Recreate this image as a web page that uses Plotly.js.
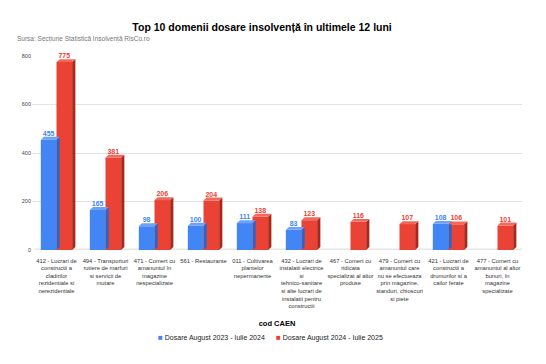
<!DOCTYPE html>
<html><head><meta charset="utf-8">
<script src="https://cdn.plot.ly/plotly-3.0.1.min.js"></script>
<style>html,body{margin:0;padding:0;background:#fff}#chart{width:546px;height:364px}</style>
</head><body><div id="chart"></div>
<script>
const categories = [
  "412 - Lucrari de<br>constructii a<br>cladirilor<br>rezidentiale si<br>nerezidentiale",
  "494 - Transporturi<br>rutiere de marfuri<br>si servicii de<br>mutare",
  "471 - Comert cu<br>amanuntul în<br>magazine<br>nespecializate",
  "561 - Restaurante",
  "011 - Cultivarea<br>plantelor<br>nepermanente",
  "432 - Lucrari de<br>instalatii electrice<br>si<br>tehnico-sanitare<br>si alte lucrari de<br>instalatii pentru<br>constructii",
  "467 - Comert cu<br>ridicata<br>specializat al altor<br>produse",
  "479 - Comert cu<br>amanuntul care<br>nu se efectueaza<br>prin magazine,<br>standuri, chioscuri<br>si piete",
  "421 - Lucrari de<br>constructii a<br>drumurilor si a<br>cailor ferate",
  "477 - Comert cu<br>amanuntul al altor<br>bunuri, în<br>magazine<br>specializate"
];
const series1Name = "Dosare August 2023 - Iulie 2024";
const series2Name = "Dosare August 2024 - Iulie 2025";
const series1 = [455, 165, 98, 100, 111, 83, null, null, 108, null];
const series2 = [775, 381, 206, 204, 138, 123, 116, 107, 106, 101];
const yTicks = [0, 200, 400, 600, 800];

const BLUE = "#4285F4", RED = "#EA4335";
const BLUE_SIDE = "#2D64C8", RED_SIDE = "#A8281C";
const BLUE_TOP = "#6EA1F7", RED_TOP = "#F0695C";

const bargap = 0.36;
const bw = (1 - bargap) / 2;
const dx = 0.065;
const dy = 12;

const shapes = [];
shapes.push({type:"path", xref:"x", yref:"y",
  path:`M -0.5 -6 L 9.5 -6 L ${9.5+dx} ${dy-6} L ${-0.5+dx} ${dy-6} Z`,
  fillcolor:"#e6e6e6", line:{width:0}, layer:"below"});
function addBox(v, left, side, top){
  if (v === null) return;
  const x0 = left, x1 = left + bw;
  shapes.push({type:"path", xref:"x", yref:"y",
    path:`M ${x1} 0 L ${x1+dx} ${dy} L ${x1+dx} ${v+dy} L ${x1} ${v} Z`,
    fillcolor:side, line:{width:0}});
  shapes.push({type:"path", xref:"x", yref:"y",
    path:`M ${x0} ${v} L ${x1} ${v} L ${x1+dx} ${v+dy} L ${x0+dx} ${v+dy} Z`,
    fillcolor:top, line:{width:0}});
}
categories.forEach((c, i) => {
  addBox(series1[i], i - bw, BLUE_SIDE, BLUE_TOP);
  addBox(series2[i], i, RED_SIDE, RED_TOP);
});

const xIdx = categories.map((c, i) => i);
const txt = arr => arr.map(v => v === null ? "" : String(v));
const legName = (color, name) => `<span style="color:${color};font-size:8px">■</span> ${name}`;

const data = [
  {type:"bar", name:series1Name, x:xIdx, y:series1, marker:{color:BLUE}, showlegend:false,
   text:txt(series1), textposition:"outside", cliponaxis:false,
   textfont:{color:BLUE, size:7, family:"Liberation Sans, Arial", weight:"bold"}},
  {type:"bar", name:series2Name, x:xIdx, y:series2, marker:{color:RED}, showlegend:false,
   text:txt(series2), textposition:"outside", cliponaxis:false,
   textfont:{color:RED, size:7, family:"Liberation Sans, Arial", weight:"bold"}},
  {type:"scatter", mode:"markers", name:legName(BLUE, series1Name), x:[null], y:[null],
   marker:{symbol:"square", size:1, color:"rgba(0,0,0,0)", line:{width:0}}, legend:"legend"},
  {type:"scatter", mode:"markers", name:legName(RED, series2Name), x:[null], y:[null],
   marker:{symbol:"square", size:1, color:"rgba(0,0,0,0)", line:{width:0}}, legend:"legend2"}
];

const legY = -(342-253)/197;
const legendCommon = {orientation:"h", xanchor:"left", y:legY, yanchor:"middle",
  font:{size:7, color:"#222"}, itemwidth:30, bgcolor:"rgba(0,0,0,0)"};

const layout = {
  width:546, height:364,
  margin:{l:32, r:24, t:56, b:111},
  paper_bgcolor:"#fff", plot_bgcolor:"#fff",
  font:{family:"Liberation Sans, Arial, sans-serif", color:"#222"},
  title:{text:"<b>Top 10 domenii dosare insolvență în ultimele 12 luni</b>",
         x:0.48, xref:"container", xanchor:"center", y:1-27/364, yref:"container", yanchor:"middle",
         font:{size:10.5, color:"#000"}},
  barmode:"group", bargap:bargap, bargroupgap:0,
  xaxis:{tickmode:"array", tickvals:xIdx, ticktext:categories, range:[-0.5, 9.5],
         tickangle:0, tickfont:{size:5.8, color:"#333"}, showgrid:false, zeroline:false,
         showline:false, ticks:"", ticklen:0, ticklabelstandoff:6,
         title:{text:"<b>cod CAEN</b>", font:{size:7.5, color:"#000"}, standoff:12}},
  yaxis:{range:[0, 800], tickvals:yTicks, tickfont:{size:5.5, color:"#444"},
         gridcolor:"#e3e3e3", gridwidth:1, zeroline:false, showline:false, ticks:"",
         automargin:false},
  showlegend:true,
  legend:Object.assign({}, legendCommon, {x:(158-40-32)/490}),
  legend2:Object.assign({}, legendCommon, {x:(276-40-32)/490}),
  shapes:shapes,
  annotations:[{text:"Sursa: Secțiune Statistică Insolvență RisCo.ro", xref:"paper", yref:"paper",
                x:(15-32)/490, y:(253-39)/197, xanchor:"left", yanchor:"middle", showarrow:false,
                font:{size:6.5, color:"#777"}}]
};
Plotly.newPlot("chart", data, layout, {displayModeBar:false, staticPlot:true});
</script></body></html>
